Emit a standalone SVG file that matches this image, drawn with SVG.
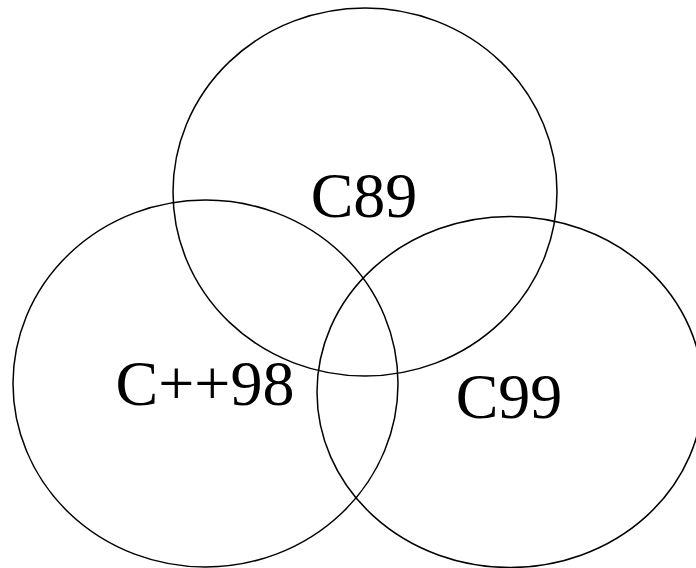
<svg xmlns="http://www.w3.org/2000/svg" width="696" height="568" viewBox="0 0 696 568">
<style>
.set{fill:none;stroke:#000;stroke-width:1.5}
.lbl{font-family:"Liberation Serif","Times New Roman",serif;font-size:64px;fill:#000;text-anchor:middle}
</style>
<rect width="696" height="568" fill="#fff"/>
<g id="c89">
<ellipse class="set" cx="365" cy="192" rx="192" ry="184"/>
<text class="lbl" x="364" y="217">C89</text>
</g>
<g id="cpp98">
<ellipse class="set" cx="205.5" cy="383.5" rx="192.5" ry="183.5"/>
<text class="lbl" x="205" y="405">C++98</text>
</g>
<g id="c99">
<ellipse class="set" cx="510" cy="392" rx="193" ry="175.5"/>
<text class="lbl" x="509" y="418">C99</text>
</g>
<g id="connectors"></g>
</svg>
